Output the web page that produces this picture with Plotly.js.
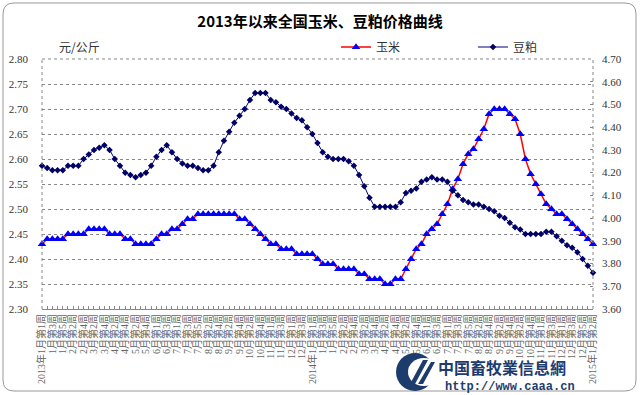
<!DOCTYPE html>
<html><head><meta charset="utf-8">
<script src="https://cdn.plot.ly/plotly-3.0.1.min.js"></script>
<style>html,body{margin:0;padding:0;background:#fff}#chart{width:640px;height:395px}</style>
</head><body><div id="chart"></div>
<script>
const chartTitle = '2013年以来全国玉米、豆粕价格曲线';
const unitLabel = '元/公斤';
const seriesNames = ['玉米', '豆粕'];

const categories = [
 '2013年1月第1周','1月第2周','1月第3周','1月第4周','1月第5周',
 '2月第1周','2月第2周','2月第3周','2月第4周',
 '3月第1周','3月第2周','3月第3周','3月第4周',
 '4月第1周','4月第2周','4月第3周','4月第4周',
 '5月第1周','5月第2周','5月第3周','5月第4周','5月第5周',
 '6月第1周','6月第2周','6月第3周','6月第4周',
 '7月第1周','7月第2周','7月第3周','7月第4周','7月第5周',
 '8月第1周','8月第2周','8月第3周','8月第4周',
 '9月第1周','9月第2周','9月第3周','9月第4周',
 '10月第1周','10月第2周','10月第3周','10月第4周','10月第5周',
 '11月第1周','11月第2周','11月第3周','11月第4周',
 '12月第1周','12月第2周','12月第3周','12月第4周',
 '2014年1月第1周','1月第2周','1月第3周','1月第4周','1月第5周',
 '2月第1周','2月第2周','2月第3周','2月第4周',
 '3月第1周','3月第2周','3月第3周','3月第4周',
 '4月第1周','4月第2周','4月第3周','4月第4周',
 '5月第1周','5月第2周','5月第3周','5月第4周','5月第5周',
 '6月第1周','6月第2周','6月第3周','6月第4周',
 '7月第1周','7月第2周','7月第3周','7月第4周','7月第5周',
 '8月第1周','8月第2周','8月第3周','8月第4周',
 '9月第1周','9月第2周','9月第3周','9月第4周',
 '10月第1周','10月第2周','10月第3周','10月第4周','10月第5周',
 '11月第1周','11月第2周','11月第3周','11月第4周',
 '12月第1周','12月第2周','12月第3周','12月第4周','12月第5周',
 '2015年1月第1周','2015年1月第2周'
];

// 玉米 (left axis, 元/公斤)
const corn = [
 2.43, 2.44,2.44,2.44,2.44, 2.45,2.45,2.45,2.45, 2.46,2.46,2.46,2.46,
 2.45,2.45,2.45, 2.44,2.44, 2.43,2.43,2.43,2.43, 2.44, 2.45,2.45,
 2.46,2.46, 2.47, 2.48,2.48, 2.49,2.49,2.49,2.49,2.49,2.49,2.49,2.49,
 2.48,2.48, 2.47, 2.46, 2.45, 2.44, 2.43,2.43, 2.42,2.42,2.42,
 2.41,2.41,2.41,2.41, 2.40, 2.39,2.39,2.39, 2.38,2.38,2.38,2.38,
 2.37,2.37, 2.36,2.36,2.36, 2.35,2.35, 2.36,2.36,
 2.38, 2.40, 2.42, 2.43, 2.45, 2.46, 2.47, 2.49, 2.51, 2.54, 2.56,
 2.59, 2.61, 2.62, 2.64, 2.66, 2.69, 2.70, 2.70, 2.70, 2.69, 2.68,
 2.65, 2.60, 2.57, 2.55, 2.53, 2.51, 2.50, 2.49, 2.49, 2.48, 2.47,
 2.46, 2.45, 2.44, 2.43
];

// 豆粕 (right axis, 元/公斤)
const soymeal = [
 4.23,4.22,4.21,4.21,4.21,4.23,4.23,4.23,4.26,4.28,4.30,4.31,4.32,4.30,
 4.26,4.23,4.20,4.19,4.18,4.19,4.20,4.23,4.27,4.30,4.32,4.29,4.26,4.24,
 4.23,4.23,4.22,4.21,4.21,4.23,4.29,4.34,4.38,4.42,4.45,4.48,4.52,4.55,
 4.55,4.55,4.52,4.51,4.49,4.48,4.46,4.44,4.43,4.40,4.37,4.33,4.29,4.27,
 4.26,4.26,4.26,4.25,4.23,4.19,4.14,4.09,4.05,4.05,4.05,4.05,4.05,4.07,
 4.11,4.12,4.13,4.16,4.17,4.18,4.17,4.17,4.16,4.12,4.10,4.08,4.07,4.06,
 4.06,4.05,4.04,4.03,4.01,4.00,3.98,3.96,3.95,3.93,3.93,3.93,3.93,3.94,
 3.94,3.92,3.90,3.88,3.87,3.85,3.82,3.79,3.76
];

const leftRange = [2.30, 2.80];
const rightRange = [3.60, 4.70];

const W = 640, H = 395, L = 42, R = 47, T = 59, B = 86;
const pw = W - L - R, ph = H - T - B;
const px = x => (x - L) / pw;
const py = y => (H - B - y) / ph;

const xIdx = categories.map((c, i) => i);
const tickIdx = xIdx.filter(i => i % 2 === 0);
const tickTxt = tickIdx.map(i => categories[i]);

const traces = [
 {
  x: xIdx, y: corn, name: seriesNames[0], type: 'scatter', mode: 'lines+markers',
  line: {color: '#ff0000', width: 1.5},
  marker: {symbol: 'triangle-up', size: 7.5, color: '#0000ff'},
  cliponaxis: false, yaxis: 'y', hoverinfo: 'x+y'
 },
 {
  x: xIdx, y: soymeal, name: seriesNames[1], type: 'scatter', mode: 'lines+markers',
  line: {color: '#000080', width: 1},
  marker: {symbol: 'diamond', size: 5, color: '#000066'},
  cliponaxis: false, yaxis: 'y2'
 }
];

function roundRect(x0, y0, x1, y1, r) {
 const X = v => px(v).toFixed(5), Y = v => py(v).toFixed(5);
 return 'M' + X(x0 + r) + ',' + Y(y0) +
  ' L' + X(x1 - r) + ',' + Y(y0) + ' Q' + X(x1) + ',' + Y(y0) + ' ' + X(x1) + ',' + Y(y0 + r) +
  ' L' + X(x1) + ',' + Y(y1 - r) + ' Q' + X(x1) + ',' + Y(y1) + ' ' + X(x1 - r) + ',' + Y(y1) +
  ' L' + X(x0 + r) + ',' + Y(y1) + ' Q' + X(x0) + ',' + Y(y1) + ' ' + X(x0) + ',' + Y(y1 - r) +
  ' L' + X(x0) + ',' + Y(y0 + r) + ' Q' + X(x0) + ',' + Y(y0) + ' ' + X(x0 + r) + ',' + Y(y0) + ' Z';
}

const axisFont = {family: 'Liberation Serif, Noto Sans CJK SC, serif', size: 11, color: '#333'};
const logoBlue = '#1d3c6e';

const layout = {
 width: W, height: H,
 margin: {l: L, r: R, t: T, b: B, pad: 0},
 paper_bgcolor: '#fff', plot_bgcolor: '#fff',
 showlegend: true,
 title: {
  text: chartTitle, xref: 'container', x: 0.5, xanchor: 'center',
  yref: 'container', y: 1 - 22 / H, yanchor: 'middle',
  font: {family: 'Noto Sans CJK SC, sans-serif', size: 15, weight: 'bold', color: '#000'}
 },
 legend: {
  orientation: 'h', x: px(336), xanchor: 'left', y: py(47), yanchor: 'middle',
  font: {family: 'Noto Sans CJK SC, sans-serif', size: 12, color: '#333'},
  entrywidth: 92, entrywidthmode: 'pixels', itemwidth: 30,
  bgcolor: 'rgba(0,0,0,0)', borderwidth: 0
 },
 xaxis: {
  range: [0, categories.length - 1], showgrid: false, zeroline: false,
  showline: true, linecolor: '#888', linewidth: 1,
  tickmode: 'array', tickvals: tickIdx, ticktext: tickTxt,
  ticks: 'inside', ticklen: 3, tickcolor: '#888', tickangle: -90,
  tickfont: {family: 'Liberation Serif, Noto Sans CJK SC, serif', size: 10, color: '#666'},
  minor: {tickmode: 'linear', tick0: 0, dtick: 1, ticks: 'inside', ticklen: 3, tickcolor: '#888', showgrid: false},
  fixedrange: true
 },
 yaxis: {
  range: leftRange, dtick: 0.05, tick0: 2.30, tickformat: '.2f',
  showgrid: true, gridcolor: '#888', griddash: 'dot', gridwidth: 1,
  zeroline: false, showline: false, ticks: '', tickfont: axisFont,
  ticklabelstandoff: 13, fixedrange: true
 },
 yaxis2: {
  range: rightRange, dtick: 0.1, tick0: 3.60, tickformat: '.2f',
  overlaying: 'y', side: 'right', showgrid: false, zeroline: false, showline: false,
  ticks: 'inside', ticklen: 3, tickcolor: '#888', tickfont: axisFont,
  ticklabelstandoff: 8, fixedrange: true
 },
 shapes: [
  {type: 'path', xref: 'paper', yref: 'paper', path: roundRect(3, 3, 636, 391, 11),
   line: {color: '#999', width: 1}, fillcolor: 'rgba(0,0,0,0)', layer: 'below'},
  {type: 'line', xref: 'paper', yref: 'paper', x0: 0, x1: 0, y0: 0, y1: 1,
   line: {color: '#888', width: 1, dash: 'dot'}},
  {type: 'line', xref: 'paper', yref: 'paper', x0: 1, x1: 1, y0: 0, y1: 1,
   line: {color: '#888', width: 1, dash: 'dot'}},
  {type: 'line', xref: 'paper', yref: 'paper', x0: 0, x1: 1, y0: 1, y1: 1,
   line: {color: '#888', width: 1, dash: 'dot'}},
  // watermark logo
  {type: 'circle', xref: 'paper', yref: 'paper', x0: px(396), x1: px(434), y0: py(353), y1: py(391),
   fillcolor: logoBlue, line: {width: 0}, layer: 'above'},
  {type: 'circle', xref: 'paper', yref: 'paper', x0: px(408), x1: px(440), y0: py(358), y1: py(386),
   fillcolor: '#fff', line: {width: 0}, layer: 'above'},
  {type: 'path', xref: 'paper', yref: 'paper', layer: 'above', line: {width: 0}, fillcolor: logoBlue,
   path: 'M' + px(410) + ',' + py(384) + ' L' + px(415) + ',' + py(384) + ' L' + px(428) + ',' + py(360) + ' L' + px(423) + ',' + py(360) + ' Z'},
  {type: 'path', xref: 'paper', yref: 'paper', layer: 'above', line: {width: 0}, fillcolor: logoBlue,
   path: 'M' + px(418) + ',' + py(384) + ' L' + px(423) + ',' + py(384) + ' L' + px(435) + ',' + py(362) + ' L' + px(431) + ',' + py(362) + ' Z'}
 ],
 annotations: [
  {text: unitLabel, xref: 'paper', yref: 'paper', x: px(57), y: py(47), xanchor: 'left', yanchor: 'middle',
   showarrow: false, font: {family: 'Noto Sans CJK SC, sans-serif', size: 12, color: '#333'}},
  {text: '中国畜牧業信息網', xref: 'paper', yref: 'paper', x: px(436), y: py(367), xanchor: 'left', yanchor: 'middle',
   showarrow: false, font: {family: 'Noto Sans CJK SC, sans-serif', size: 16, weight: 'bold', color: logoBlue}},
  {text: 'http://www.caaa.cn', xref: 'paper', yref: 'paper', x: px(443), y: py(387), xanchor: 'left', yanchor: 'middle',
   showarrow: false, font: {family: 'Liberation Mono, monospace', size: 12, weight: 'bold', color: logoBlue}}
 ]
};

Plotly.newPlot('chart', traces, layout, {displayModeBar: false, staticPlot: true});
</script>
</body></html>
